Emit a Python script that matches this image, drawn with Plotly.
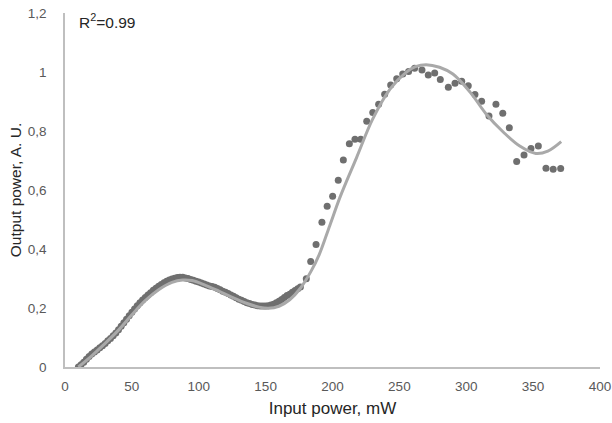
import plotly.graph_objects as go

# Measured data: input power (mW) and output power (A. U.)
dense_x = list(range(10, 178, 2))
dense_y = [0.000, 0.008, 0.016, 0.026, 0.036, 0.044, 0.051, 0.058, 0.065, 0.072,
           0.080, 0.089, 0.097, 0.106, 0.115, 0.126, 0.138, 0.150, 0.162, 0.174,
           0.186, 0.197, 0.208, 0.218, 0.227, 0.236, 0.244, 0.252, 0.260, 0.267,
           0.274, 0.280, 0.286, 0.291, 0.295, 0.298, 0.301, 0.303, 0.304, 0.304,
           0.302, 0.300, 0.297, 0.294, 0.291, 0.288, 0.285, 0.281, 0.278, 0.275,
           0.273, 0.270, 0.266, 0.262, 0.257, 0.253, 0.249, 0.244, 0.240, 0.235,
           0.230, 0.226, 0.222, 0.218, 0.215, 0.212, 0.210, 0.208, 0.207, 0.207,
           0.207, 0.208, 0.210, 0.213, 0.218, 0.223, 0.229, 0.236, 0.242, 0.247,
           0.253, 0.259, 0.265, 0.271]

sparse_x = [180.4, 183.7, 187.7, 192.1, 196.0, 200.1, 204.3, 208.1, 212.6, 216.8,
            221.1, 225.6, 230.1, 234.5, 239.0, 243.5, 248.0, 252.5, 256.9, 261.4,
            266.9, 271.6, 276.4, 280.6, 286.6, 291.6, 296.6, 301.5, 306.5, 311.5,
            317.0, 322.2, 327.3, 332.2, 337.7, 343.2, 348.4, 353.9, 359.6, 365.0,
            370.6]
sparse_y = [0.299, 0.358, 0.415, 0.491, 0.545, 0.579, 0.633, 0.702, 0.757, 0.772,
            0.772, 0.833, 0.863, 0.891, 0.925, 0.956, 0.977, 0.993, 1.002, 1.013,
            1.007, 0.990, 0.997, 0.975, 0.948, 0.962, 0.969, 0.953, 0.924, 0.901,
            0.851, 0.891, 0.860, 0.811, 0.697, 0.719, 0.741, 0.749, 0.674, 0.670,
            0.673]

# Polynomial trendline
trend_x = [10, 20, 30, 40, 50, 60, 70, 80, 88, 95, 105, 115, 125, 135, 145, 152,
           160, 168, 176, 184, 190, 198, 206, 218, 230, 243, 255, 262, 270, 280,
           290, 303, 315, 328, 340, 352, 361, 371]
trend_y = [0.000, 0.038, 0.080, 0.125, 0.177, 0.225, 0.262, 0.287, 0.295, 0.293,
           0.277, 0.257, 0.236, 0.217, 0.203, 0.199, 0.206, 0.228, 0.267, 0.325,
           0.380, 0.480, 0.580, 0.710, 0.840, 0.942, 0.999, 1.018, 1.025, 1.016,
           0.993, 0.931, 0.857, 0.795, 0.749, 0.724, 0.732, 0.764]

x_ticks = [0, 50, 100, 150, 200, 250, 300, 350, 400]
y_ticks = [0, 0.2, 0.4, 0.6, 0.8, 1, 1.2]

fig = go.Figure()
fig.add_trace(go.Scatter(x=dense_x + sparse_x, y=dense_y + sparse_y, mode="markers",
                         marker=dict(color="#6f6f6f", size=7),
                         showlegend=False))
fig.add_trace(go.Scatter(x=trend_x, y=trend_y, mode="lines",
                         line=dict(color="#a9a9a9", width=3, shape="spline", smoothing=1.0),
                         showlegend=False))

fig.add_annotation(x=9, y=1.172, xref="x", yref="y", xanchor="left", yanchor="middle",
                   text="R<sup>2</sup>=0.99", showarrow=False,
                   font=dict(family="Liberation Sans, Arial", size=15.5, color="#262626"))

fig.update_layout(
    width=612, height=423,
    margin=dict(l=65, r=12, t=13, b=56),
    paper_bgcolor="white", plot_bgcolor="white",
    separators=", ",
    font=dict(family="Liberation Sans, Arial", color="#595959", size=13),
    xaxis=dict(range=[0, 400], tickvals=x_ticks, showgrid=False, zeroline=False,
               showline=True, linecolor="#bfbfbf", linewidth=1.5, ticks="",
               automargin=False, ticklabelstandoff=6,
               tickfont=dict(size=13.5, color="#595959"),
               title=dict(text="Input power, mW", font=dict(size=17, color="#262626"), standoff=9)),
    yaxis=dict(range=[0, 1.2], tickvals=y_ticks, showgrid=False, zeroline=False,
               showline=True, linecolor="#bfbfbf", linewidth=1.5, ticks="",
               automargin=False, ticklabelstandoff=14,
               tickfont=dict(size=13.5, color="#595959"),
               title=dict(text="Output power, A. U.", font=dict(size=15.5, color="#262626"), standoff=2)),
)

# remove the default page margin so the figure sits at the window's top-left corner
fig.write_html("out.html", config={"displayModeBar": False},
               post_script="document.body.style.margin='0';")
